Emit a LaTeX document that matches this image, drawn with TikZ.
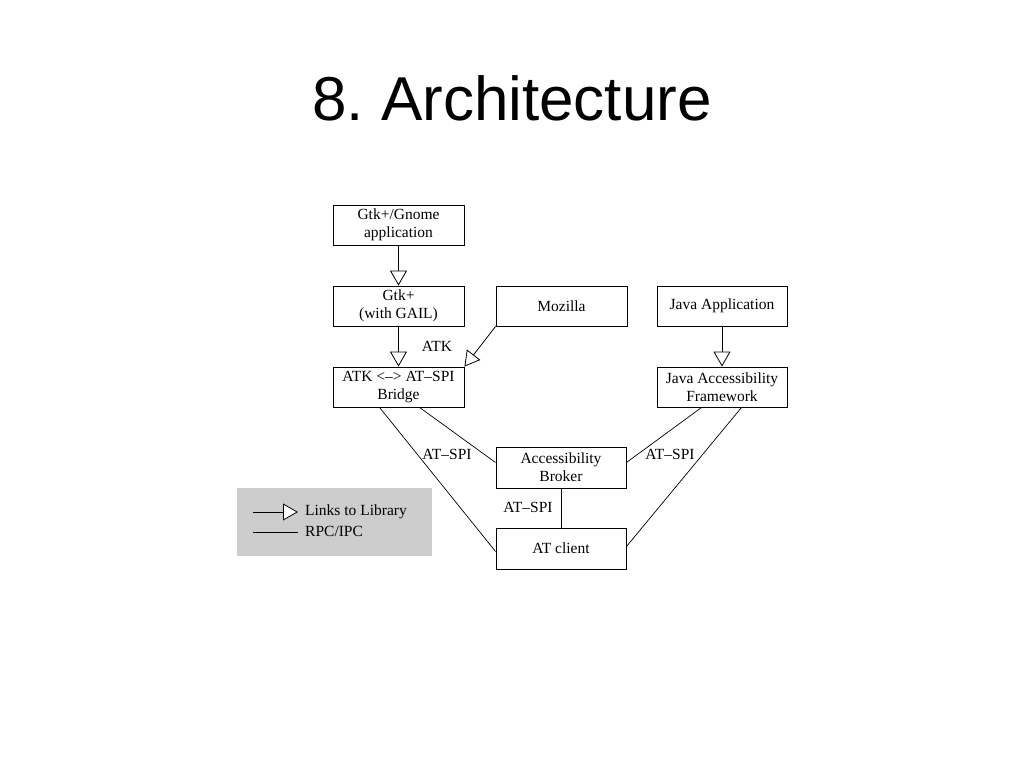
\documentclass[tikz,border=0pt]{standalone}
\usepackage{fontspec}
\setmainfont{Liberation Serif}
\newfontfamily\titlefont{Liberation Sans}
\usetikzlibrary{arrows.meta}
\begin{document}
\frenchspacing
\begin{tikzpicture}[x=1pt,y=-1pt,
  box/.style={draw, line width=0.9pt, minimum width=131pt, minimum height=40pt, inner sep=0pt, align=center,
    font=\fontsize{15.5}{18}\selectfont},
  lnk/.style={line width=0.8pt, -{Triangle[open, length=15pt, width=17pt, fill=white]}},
  rpc/.style={line width=0.7pt},
  lbl/.style={font=\fontsize{15.5}{18}\selectfont, inner sep=0pt}]
\useasboundingbox (0,0) rectangle (1024,768);
\node[font=\titlefont\fontsize{62}{70}\selectfont, anchor=base] (title) at (512,120) {8.\ Architecture};
% legend
\path[fill={rgb,255:red,205;green,205;blue,205}] (237,488) rectangle (432,556);
\coordinate (l1a) at (253,512); \coordinate (l1b) at (298,512);
\coordinate (l2a) at (253,532); \coordinate (l2b) at (298,532);
\draw[lnk] (l1a) -- (l1b);
\draw[rpc] (l2a) -- (l2b);
\node[lbl, anchor=west] (leg1) at (305,512) {Links to Library};
\node[lbl, anchor=west] (leg2) at (305,531) {RPC/IPC};
% boxes
\node[box] (gnome) at (398.5,225) {Gtk+/Gnome\\application};
\node[box] (gtk) at (398.5,306) {Gtk+\\(with GAIL)};
\node[box] (bridge) at (398.5,387) {ATK <–> AT–SPI\\Bridge};
\node[box] (mozilla) at (561.5,306) {Mozilla};
\node[box, minimum width=130pt] (javaapp) at (722,306) {Java Application};
\node[box, minimum width=130pt] (jaf) at (722,387) {Java Accessibility\\Framework};
\node[box, minimum width=130pt, minimum height=41pt] (broker) at (561,467.5) {Accessibility\\Broker};
\node[box, minimum width=130pt, minimum height=41pt] (client) at (561,548.5) {AT client};
% links
\draw[lnk] (gnome) -- (gtk);
\draw[lnk] (gtk) -- (bridge);
\draw[lnk] (mozilla.south west) -- (bridge.north east);
\draw[lnk] (javaapp) -- (jaf);
% rpc
\draw[rpc] ([xshift=47pt]bridge.south west) -- ([yshift=-3pt]client.west);
\draw[rpc] ([xshift=87pt]bridge.south west) -- ([yshift=5pt]broker.west);
\draw[rpc] ([xshift=45pt]jaf.south west) -- ([yshift=5pt]broker.east);
\draw[rpc] ([xshift=85pt]jaf.south west) -- ([yshift=2pt]client.east);
\draw[rpc] (broker) -- (client);
% labels
\node[lbl] (atk) at (437,346) {ATK};
\node[lbl] (sp1) at (447,454) {AT–SPI};
\node[lbl] (sp2) at (670,454) {AT–SPI};
\node[lbl] (sp3) at (528,507) {AT–SPI};
\end{tikzpicture}
\end{document}
